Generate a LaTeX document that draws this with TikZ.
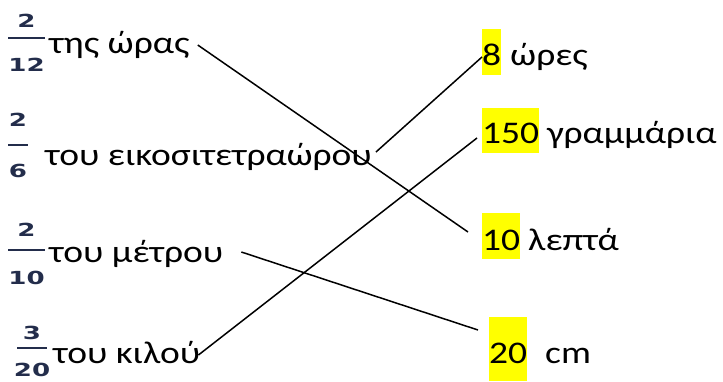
\documentclass[tikz,border=0pt]{standalone}
\usepackage{fontspec}
\newfontfamily\txtfont[FakeStretch=1.19]{Carlito}
\newfontfamily\frcfont[FakeStretch=1.45]{DejaVu Sans Bold}
\definecolor{frcol}{RGB}{35,45,75}
\definecolor{hl}{RGB}{255,255,0}
\tikzset{
 lbl/.style={anchor=base west, inner sep=0pt, font=\txtfont\fontsize{31.5}{36}\selectfont},
 hlbox/.style={lbl, fill=hl},
 fnum/.style={inner sep=0pt, text=frcol, font=\frcfont\fontsize{18}{20}\selectfont},
 fbar/.style={draw=frcol, line width=1.8pt},
 link/.style={draw=black, line width=1.5pt},
}
\begin{document}
\begin{tikzpicture}[x=1pt,y=-1pt]
\useasboundingbox (0,0) rectangle (723,381);
% fractions
\node[fnum] (n1) at (26.5,21) {2};
\node[fnum] (d1) at (26.5,65) {12};
\draw[fbar] (8,38) -- (45,38);
\node[fnum] (n2) at (18,120) {2};
\node[fnum] (d2) at (18,171) {6};
\draw[fbar] (8,145) -- (28,145);
\node[fnum] (n3) at (26.5,230) {2};
\node[fnum] (d3) at (26.5,278) {10};
\draw[fbar] (8,250) -- (45,250);
\node[fnum] (n4) at (32,333) {3};
\node[fnum] (d4) at (32,370) {20};
\draw[fbar] (17,348) -- (47,348);
% left texts
\node[lbl] (l1) at (49,53) {της ώρας};
\node[lbl] (l2) at (45,165) {του εικοσιτετραώρου};
\node[lbl] (l3) at (49,262) {του μέτρου};
\node[lbl] (l4) at (53,363) {του κιλού};
% right side
\node[hlbox, text height=36pt, text depth=10pt] (h1) at (482,65) {8};
\node[lbl] (r1) at (510,65) {ώρες};
\node[hlbox, text height=35pt, text depth=10pt] (h2) at (482,143) {150};
\node[lbl] (r2) at (547,143) {γραμμάρια};
\node[hlbox, text height=37pt, text depth=9pt] (h3) at (482,250) {10};
\node[lbl] (r3) at (528,250) {λεπτά};
\node[hlbox, text height=46pt, text depth=18pt] (h4) at (489,363) {20};
\node[lbl] (r4) at (545,363) {cm};
% connector ends
\coordinate (s1) at ([shift={(8,-8)}]l1.base east);
\coordinate (e1) at ([shift={(-14,-18)}]h3.base west);
\coordinate (s2) at ([shift={(4,-13)}]l2.base east);
\coordinate (e2) at ([shift={(0,-8)}]h1.base west);
\coordinate (s3) at ([shift={(18,-10)}]l3.base east);
\coordinate (e3) at ([shift={(-11,-33)}]h4.base west);
\coordinate (s4) at ([shift={(-2,-8)}]l4.base east);
\coordinate (e4) at ([shift={(-5,-5)}]h2.base west);
\draw[link] (s1) -- (e1);
\draw[link] (s2) -- (e2);
\draw[link] (s3) -- (e3);
\draw[link] (s4) -- (e4);
\end{tikzpicture}
\end{document}
